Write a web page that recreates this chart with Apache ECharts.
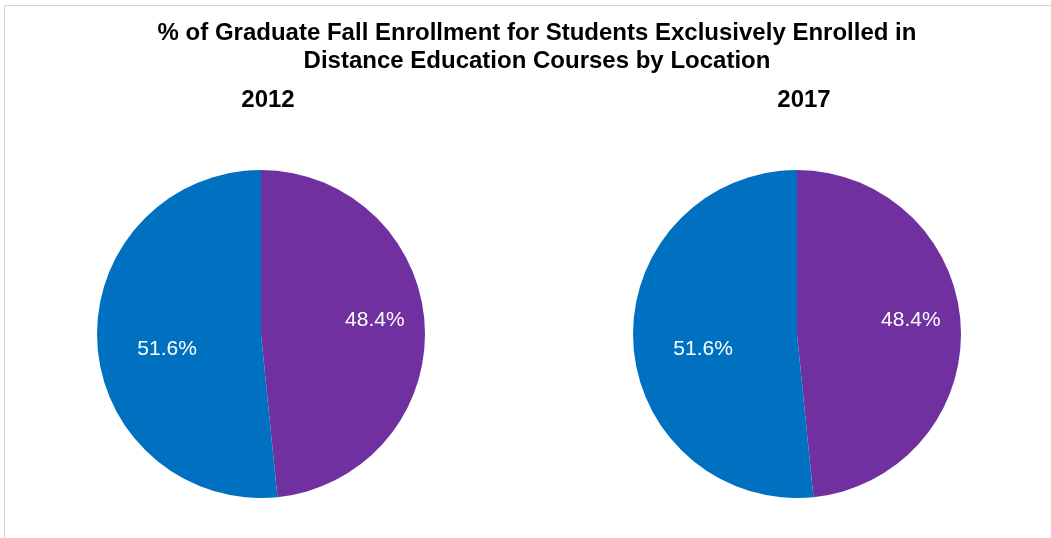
<!DOCTYPE html>
<html>
<head>
<meta charset="utf-8">
<script src="https://cdn.jsdelivr.net/npm/echarts@6/dist/echarts.min.js"></script>
<style>
  html, body { margin: 0; padding: 0; background: #fff; }
  #chart { width: 1051px; height: 538px; }
</style>
</head>
<body>
<div id="chart"></div>
<script>
// data
const years = ['2012', '2017']
const locations = ['Outside State', 'In State']
const values2012 = [48.4, 51.6]
const values2017 = [48.4, 51.6]
const colors = ['#7030A0', '#0070C0']

const chart = echarts.init(document.getElementById('chart'))

// nudge labels to where the original puts them
const labelShift = [[29, -10], [-9, 11]]

function pieSeries (name, values, cx) {
  return {
    name: name,
    type: 'pie',
    center: [cx, 334],
    radius: [0, 164],
    startAngle: 90,
    clockwise: true,
    silent: true,
    itemStyle: { borderWidth: 0 },
    label: {
      show: true,
      position: 'inside',
      color: '#fff',
      fontFamily: 'Liberation Sans, Arial, sans-serif',
      fontSize: 21,
      formatter: (p) => p.value.toFixed(1) + '%'
    },
    labelLayout: (params) => ({
      dx: labelShift[params.dataIndex][0],
      dy: labelShift[params.dataIndex][1]
    }),
    data: locations.map((loc, i) => ({
      name: loc,
      value: values[i],
      itemStyle: { color: colors[i] }
    }))
  }
}

const titleStyle = {
  fontFamily: 'Liberation Sans, Arial, sans-serif',
  fontWeight: 'bold',
  fontSize: 24,
  color: '#000'
}

chart.setOption({
  animation: false,
  backgroundColor: '#fff',
  title: [
    {
      text: '% of Graduate Fall Enrollment for Students Exclusively Enrolled in\nDistance Education Courses by Location',
      left: 532,
      top: 14,
      textAlign: 'center',
      textStyle: Object.assign({}, titleStyle, { lineHeight: 28 })
    },
    {
      text: years[0],
      left: 263,
      top: 83,
      textAlign: 'center',
      textStyle: titleStyle
    },
    {
      text: years[1],
      left: 799,
      top: 83,
      textAlign: 'center',
      textStyle: titleStyle
    }
  ],
  graphic: [{
    type: 'rect',
    shape: { x: 4.5, y: 5.5, width: 1100, height: 600 },
    style: { fill: 'none', stroke: '#d0d0d0', lineWidth: 1 },
    silent: true
  }],
  series: [
    pieSeries(years[0], values2012, 261),
    pieSeries(years[1], values2017, 797)
  ]
})
</script>
</body>
</html>
